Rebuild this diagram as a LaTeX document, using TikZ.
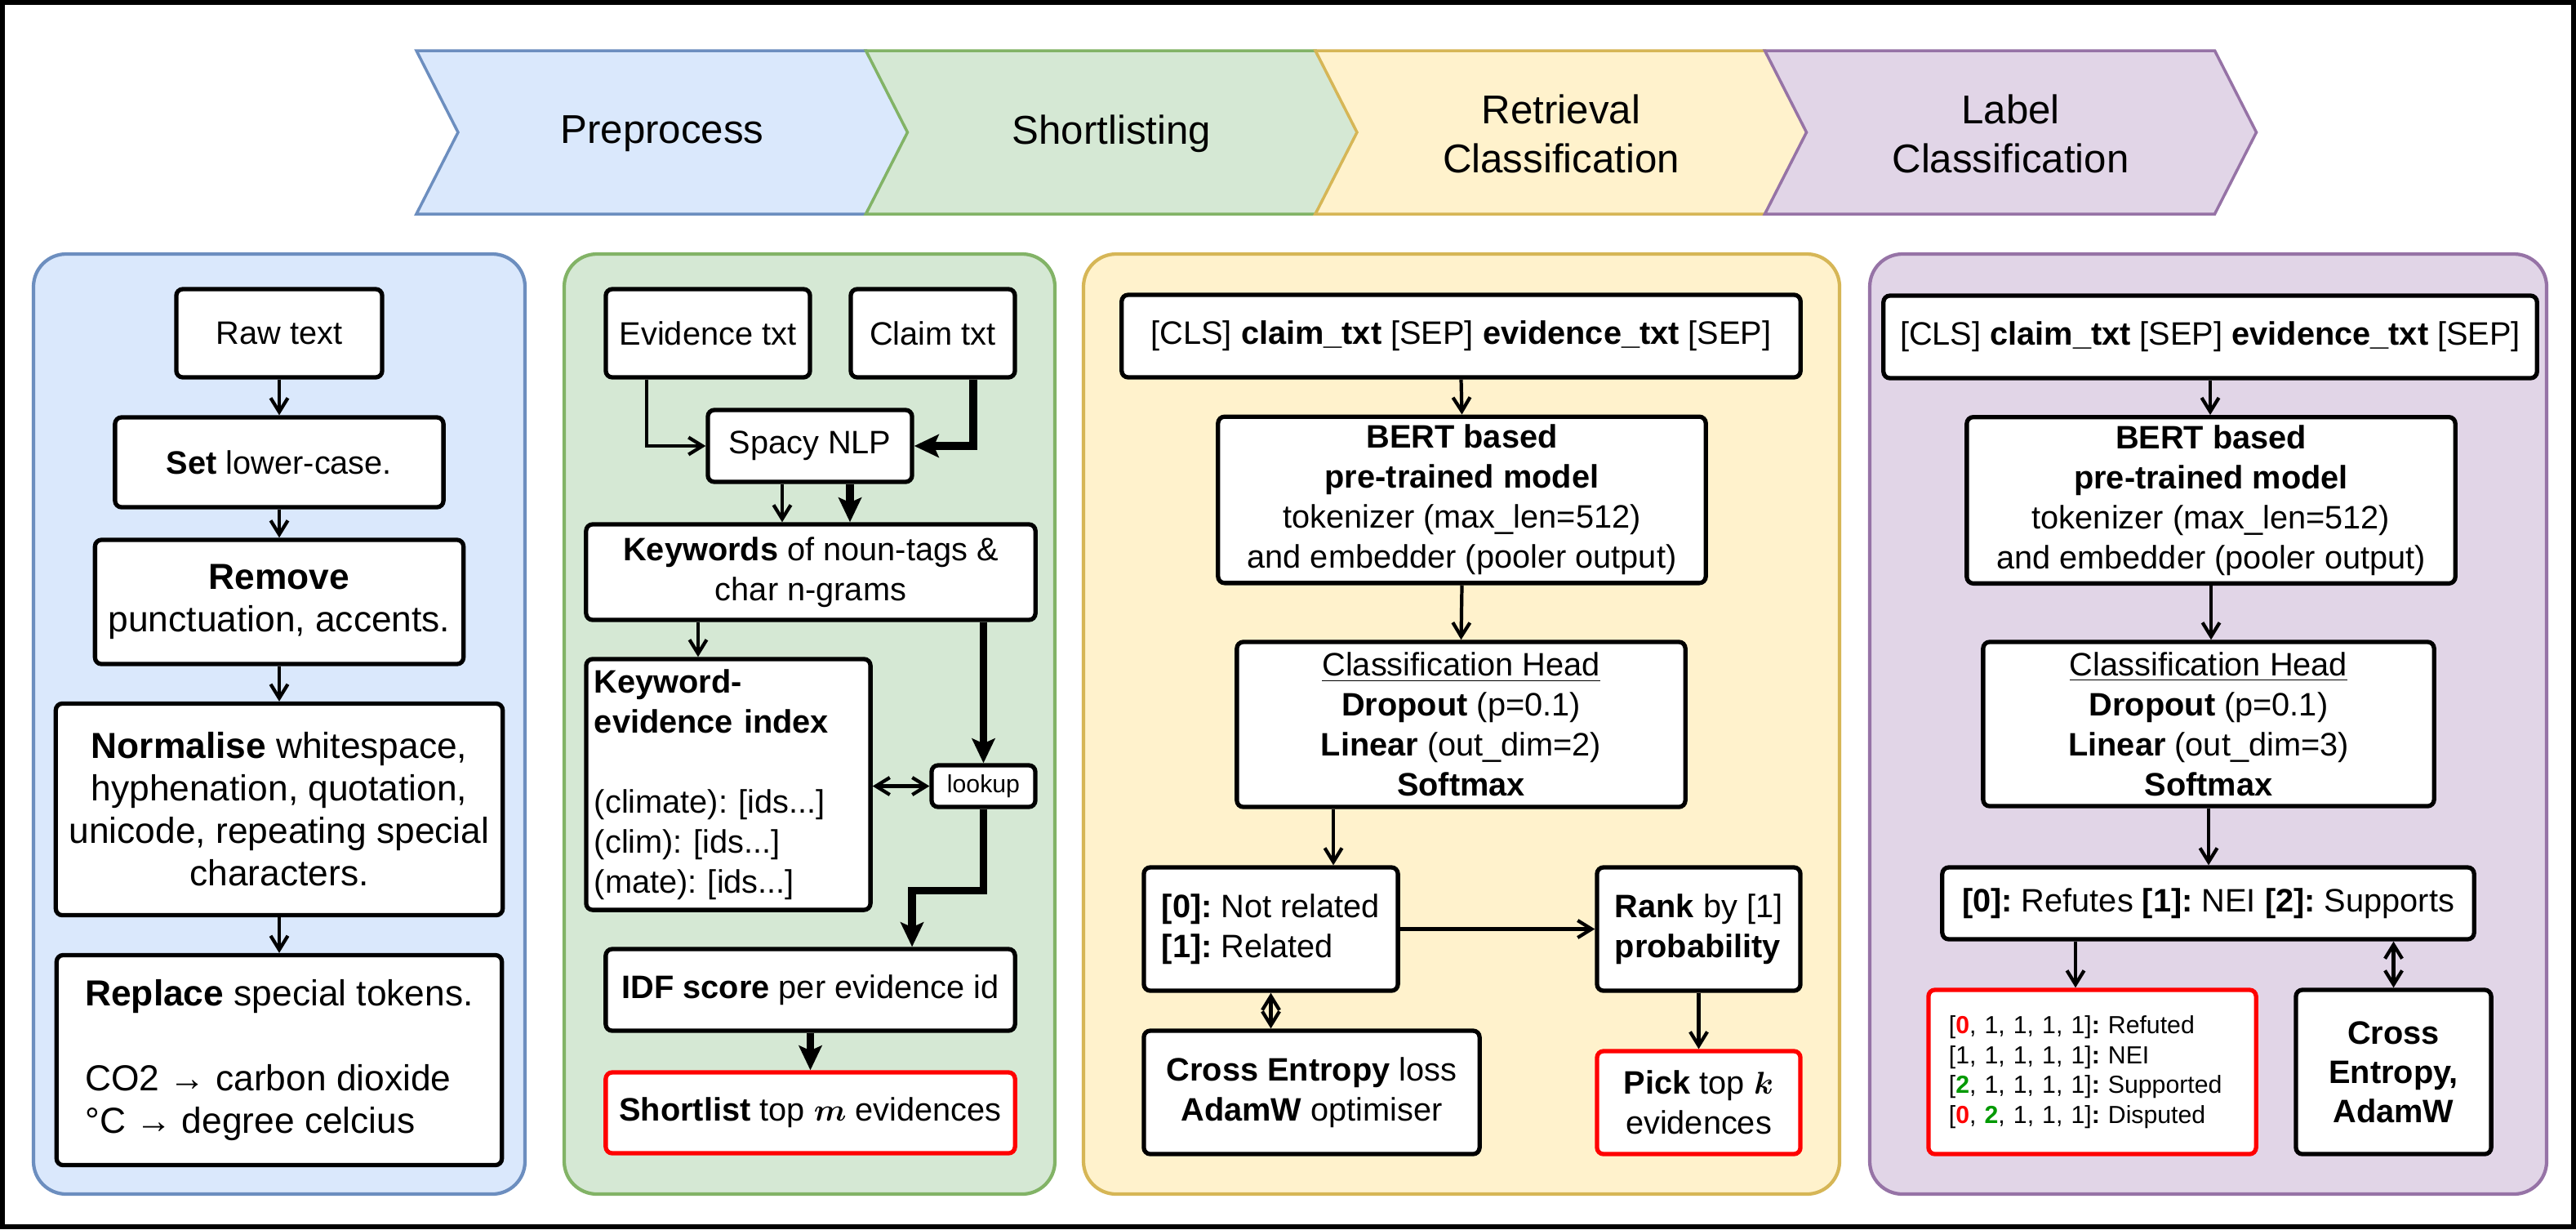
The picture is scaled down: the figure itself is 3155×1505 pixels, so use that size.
\documentclass[tikz,border=0pt]{standalone}
\usepackage{fontspec}
\setmainfont{Liberation Sans}
\usepackage{bm}
\usetikzlibrary{
    arrows.meta,
    positioning,
    calc
}

\definecolor{bluefill}{HTML}{DAE8FC}
\definecolor{bluedraw}{HTML}{6C8EBF}
\definecolor{greenfill}{HTML}{D5E8D4}
\definecolor{greendraw}{HTML}{82B366}
\definecolor{yellowfill}{HTML}{FFF2CC}
\definecolor{yellowdraw}{HTML}{D6B656}
\definecolor{purplefill}{HTML}{E1D5E7}
\definecolor{purpledraw}{HTML}{9673A6}
\definecolor{okgreen}{HTML}{009900}

\begin{document}
\frenchspacing
\begin{tikzpicture}[
    x=0.01cm, y=-0.01cm,
    every node/.style={font=\fontsize{11.3}{13.9}\selectfont},
    stepbox/.style={rectangle, rounded corners=0.08cm, draw=black, line width=1.5pt,
                    fill=white, align=center, inner sep=0.1cm},
    outbox/.style={stepbox, draw=red},
    bigtext/.style={font=\fontsize{12.6}{14.8}\selectfont},
    smalltext/.style={font=\fontsize{8.6}{10.4}\selectfont},
    panel/.style={rounded corners=0.4cm, line width=1.2pt},
    phase/.style={line width=1pt},
    arrow/.style={-{Straight Barb[length=0.17cm, width=0.21cm]}, line width=1.2pt},
    twoway/.style={{Straight Barb[length=0.17cm, width=0.21cm]}-{Straight Barb[length=0.17cm, width=0.21cm]}, line width=1.2pt},
    heavy/.style={-{Stealth[length=0.3cm, width=0.28cm, inset=0.06cm]}, line width=2.7pt}
]
    \useasboundingbox (0,0) rectangle (3155,1505);
    \draw [line width=1.7pt] (3,3) rectangle (3152,1502);

    % Phase chevrons
    \foreach \i/\fillc/\drawc/\phasename in {0/bluefill/bluedraw/Preprocess,
            1/greenfill/greendraw/Shortlisting,
            2/yellowfill/yellowdraw/{Retrieval\\Classification},
            3/purplefill/purpledraw/{Label\\Classification}} {
        \pgfmathsetmacro{\xo}{510+550.5*\i}
        \draw [phase, fill=\fillc, draw=\drawc] (\xo,62) -- ++(551,0) -- ++(51,100)
            -- ++(-51,100) -- ++(-551,0) -- ++(51,-100) -- cycle;
        \node (phase\i) [align=center, font=\fontsize{14}{17}\selectfont] at (\xo+301,164) {\phasename};
    }

    % Panels
    \draw [panel, draw=bluedraw, fill=bluefill] (41,311) rectangle (643,1462);
    \draw [panel, draw=greendraw, fill=greenfill] (691,311) rectangle (1292,1462);
    \draw [panel, draw=yellowdraw, fill=yellowfill] (1327,311) rectangle (2253,1462);
    \draw [panel, draw=purpledraw, fill=purplefill] (2290,311) rectangle (3119,1462);

    % Preprocess
    \node (raw) [stepbox, minimum width=2.52cm, minimum height=1.08cm] at (342,408) {Raw text};
    \node (setlc) [stepbox, minimum width=4.02cm, minimum height=1.1cm] at (342,566) {\textbf{Set} lower-case.};
    \node (remove) [stepbox, bigtext, minimum width=4.51cm, minimum height=1.52cm] at (342,737)
        {\textbf{Remove}\\punctuation, accents.};
    \node (normalise) [stepbox, bigtext, minimum width=5.47cm, minimum height=2.59cm] at (342,991)
        {\textbf{Normalise} whitespace,\\hyphenation, quotation,\\unicode, repeating special\\characters.};
    \node (replace) [stepbox, bigtext, align=left, minimum width=5.45cm, minimum height=2.57cm] at (342,1298)
        {\textbf{Replace} special tokens.\\[14.8pt]CO2 → carbon dioxide\\°C → degree celcius};

    % Shortlisting
    \node (evid) [stepbox, minimum width=2.5cm, minimum height=1.08cm] at (867,408) {Evidence txt};
    \node (claim) [stepbox, minimum width=2.01cm, minimum height=1.08cm] at (1142.5,408) {Claim txt};
    \node (spacy) [stepbox, minimum width=2.5cm, minimum height=0.88cm] at (992,546) {Spacy NLP};
    \node (keywords) [stepbox, minimum width=5.5cm, minimum height=1.17cm] at (993,700.5)
        {\textbf{Keywords} of noun-tags \&\\char n-grams};
    \node (index) [stepbox, align=left, text width=3.28cm, minimum width=3.48cm, minimum height=3.07cm] at (892,960.5)
        {\textbf{Keyword-}\\\textbf{evidence index}\\[13.9pt](climate): [ids...]\\(clim): [ids...]\\(mate): [ids...]};
    \node (lookup) [stepbox, font=\fontsize{8.6}{10}\selectfont, inner sep=0.05cm, minimum width=1.27cm, minimum height=0.51cm] at (1204.5,962.5) {lookup};
    \node (idf) [stepbox, minimum width=5.01cm, minimum height=1cm] at (992.5,1212)
        {\textbf{IDF score} per evidence id};
    \node (shortlist) [outbox, minimum width=5.01cm, minimum height=0.99cm] at (992.5,1362.5)
        {\textbf{Shortlist} top $\bm{m}$ evidences};

    % Retrieval classification
    \node (clsA) [stepbox, minimum width=8.31cm, minimum height=1.01cm] at (1789.5,411.5)
        {[CLS] \textbf{claim\_txt} [SEP] \textbf{evidence\_txt} [SEP]};
    \node (bertA) [stepbox, minimum width=5.97cm, minimum height=2cm] at (1790.5,612)
        {\textbf{BERT based}\\\textbf{pre-trained model}\\tokenizer (max\_len=512)\\and embedder (pooler output)};
    \node (headA) [stepbox, minimum width=5.49cm, minimum height=2.02cm] at (1789.5,887)
        {\underline{Classification Head}\\\textbf{Dropout} (p=0.1)\\\textbf{Linear} (out\_dim=2)\\\textbf{Softmax}};
    \node (related) [stepbox, align=left, minimum width=3.11cm, minimum height=1.51cm] at (1556.5,1137.5)
        {\textbf{[0]:} Not related\\\textbf{[1]:} Related};
    \node (rank) [stepbox, align=left, minimum width=2.49cm, minimum height=1.51cm] at (2080.5,1137.5)
        {\textbf{Rank} by [1]\\\textbf{probability}};
    \node (ceA) [stepbox, minimum width=4.11cm, minimum height=1.51cm] at (1606.5,1337.5)
        {\textbf{Cross Entropy} loss\\\textbf{AdamW} optimiser};
    \node (pick) [outbox, minimum width=2.49cm, minimum height=1.26cm] at (2080.5,1350)
        {\textbf{Pick} top $\bm{k}$\\evidences};

    % Label classification
    \node (clsB) [stepbox, minimum width=8cm, minimum height=1.01cm] at (2707,412.5)
        {[CLS] \textbf{claim\_txt} [SEP] \textbf{evidence\_txt} [SEP]};
    \node (bertB) [stepbox, minimum width=5.98cm, minimum height=2.01cm] at (2708,612.5)
        {\textbf{BERT based}\\\textbf{pre-trained model}\\tokenizer (max\_len=512)\\and embedder (pooler output)};
    \node (headB) [stepbox, minimum width=5.52cm, minimum height=2.01cm] at (2705,886.5)
        {\underline{Classification Head}\\\textbf{Dropout} (p=0.1)\\\textbf{Linear} (out\_dim=3)\\\textbf{Softmax}};
    \node (labels) [stepbox, minimum width=6.51cm, minimum height=0.88cm] at (2704.5,1106)
        {\textbf{[0]:} Refutes \textbf{[1]:} NEI \textbf{[2]:} Supports};
    \node (outB) [outbox, smalltext, align=left, text width=3.51cm, minimum width=4.01cm, minimum height=2.01cm] at (2562.5,1312.5)
        {{}[\textcolor{red}{\textbf{0}}, 1, 1, 1, 1]\textbf{:} Refuted\\{}[1, 1, 1, 1, 1]\textbf{:} NEI\\{}[\textcolor{okgreen}{\textbf{2}}, 1, 1, 1, 1]\textbf{:} Supported\\{}[\textcolor{red}{\textbf{0}}, \textcolor{okgreen}{\textbf{2}}, 1, 1, 1]\textbf{:} Disputed};
    \node (ceB) [stepbox, font=\fontsize{11.3}{13.6}\selectfont\bfseries, minimum width=2.39cm, minimum height=2.01cm] at (2931.5,1312.5)
        {Cross\\Entropy,\\AdamW};

    % Connections
    \draw [arrow] (raw.south) -- (setlc.north);
    \draw [arrow] (setlc.south) -- (remove.north);
    \draw [arrow] (remove.south) -- (normalise.north);
    \draw [arrow] (normalise.south) -- (replace.north);

    \draw [arrow] ([xshift=-0.75cm]evid.south) |- (spacy.west);
    \draw [heavy] ([xshift=0.495cm]claim.south) |- (spacy.east);
    \draw [arrow] ([xshift=-0.34cm]spacy.south) -- ([xshift=-0.34cm]spacy.south |- keywords.north);
    \draw [heavy] ([xshift=0.49cm]spacy.south) -- ([xshift=0.49cm]spacy.south |- keywords.north);
    \draw [arrow] ([xshift=-0.37cm]index.north |- keywords.south) -- ([xshift=-0.37cm]index.north);
    \draw [heavy] (lookup.north |- keywords.south) -- (lookup.north);
    \draw [twoway] (lookup.west -| index.east) -- (lookup.west);
    \draw [heavy] (lookup.south) -- ++(0,100) -| ([xshift=1.245cm]idf.north);
    \draw [heavy] (idf.south) -- (shortlist.north);

    \draw [arrow] (clsA.south) -- (bertA.north);
    \draw [arrow] (bertA.south) -- (headA.north);
    \draw [arrow] ([xshift=0.765cm]related.north |- headA.south) -- ([xshift=0.765cm]related.north);
    \draw [arrow] (related.east) -- (rank.west);
    \draw [twoway] (related.south) -- (related.south |- ceA.north);
    \draw [arrow] (rank.south) -- (pick.north);

    \draw [arrow] (clsB.south) -- (clsB.south |- bertB.north);
    \draw [arrow] (bertB.south) -- (bertB.south |- headB.north);
    \draw [arrow] (headB.south) -- (headB.south |- labels.north);
    \draw [arrow] ([xshift=-0.205cm]outB.north |- labels.south) -- ([xshift=-0.205cm]outB.north);
    \draw [twoway] (ceB.north |- labels.south) -- (ceB.north);

\end{tikzpicture}
\end{document}
